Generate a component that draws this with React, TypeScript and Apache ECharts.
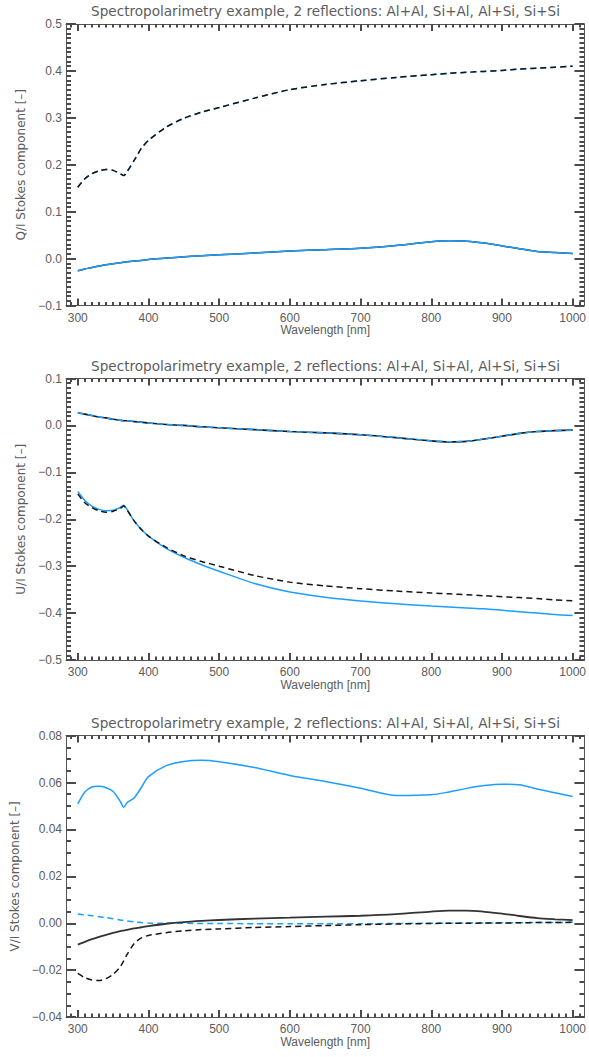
import { useEffect, useRef } from "react";
import * as echarts from "echarts";

// ---------------- data ----------------
const WAVELENGTH = [300, 310, 320, 330, 340, 350, 360, 365, 370, 380, 390, 400, 425, 450, 475, 500, 550, 600, 650, 700, 750, 800, 825, 850, 875, 900, 925, 950, 975, 1000];

// Q/I (the solid pair and the dashed pair coincide)
const Q_BLACK_SOLID = [-0.026, -0.022, -0.019, -0.016, -0.013, -0.011, -0.009, -0.008, -0.007, -0.005, -0.004, -0.002, 0.001, 0.004, 0.006, 0.008, 0.012, 0.016, 0.019, 0.022, 0.028, 0.036, 0.038, 0.037, 0.033, 0.027, 0.021, 0.015, 0.013, 0.011];
const Q_BLUE_SOLID = [-0.026, -0.022, -0.019, -0.016, -0.013, -0.011, -0.009, -0.008, -0.007, -0.005, -0.004, -0.002, 0.001, 0.004, 0.006, 0.008, 0.012, 0.016, 0.019, 0.022, 0.028, 0.036, 0.038, 0.037, 0.033, 0.027, 0.021, 0.015, 0.013, 0.011];
const Q_BLUE_DASHED = [0.152, 0.170, 0.181, 0.187, 0.190, 0.188, 0.181, 0.177, 0.186, 0.210, 0.235, 0.252, 0.280, 0.299, 0.312, 0.322, 0.342, 0.360, 0.371, 0.379, 0.386, 0.392, 0.395, 0.397, 0.399, 0.401, 0.404, 0.406, 0.408, 0.410];
const Q_BLACK_DASHED = [0.152, 0.170, 0.181, 0.187, 0.190, 0.188, 0.181, 0.177, 0.186, 0.210, 0.235, 0.252, 0.280, 0.299, 0.312, 0.322, 0.342, 0.360, 0.371, 0.379, 0.386, 0.392, 0.395, 0.397, 0.399, 0.401, 0.404, 0.406, 0.408, 0.410];

// U/I
const U_BLACK_SOLID = [0.027, 0.024, 0.021, 0.018, 0.016, 0.013, 0.011, 0.010, 0.010, 0.008, 0.007, 0.005, 0.002, 0.000, -0.003, -0.005, -0.009, -0.013, -0.016, -0.020, -0.026, -0.033, -0.035, -0.034, -0.029, -0.023, -0.017, -0.013, -0.011, -0.010];
const U_BLUE_DASHED = [0.027, 0.024, 0.021, 0.018, 0.016, 0.013, 0.011, 0.010, 0.010, 0.008, 0.007, 0.005, 0.002, 0.000, -0.003, -0.005, -0.009, -0.013, -0.016, -0.020, -0.026, -0.033, -0.035, -0.034, -0.029, -0.023, -0.017, -0.013, -0.011, -0.010];
const U_BLUE_SOLID = [-0.141, -0.160, -0.172, -0.179, -0.182, -0.181, -0.175, -0.170, -0.180, -0.204, -0.222, -0.236, -0.262, -0.281, -0.297, -0.311, -0.337, -0.355, -0.366, -0.374, -0.380, -0.385, -0.387, -0.389, -0.391, -0.394, -0.397, -0.400, -0.403, -0.405];
const U_BLACK_DASHED = [-0.146, -0.165, -0.175, -0.182, -0.185, -0.183, -0.177, -0.172, -0.181, -0.204, -0.222, -0.236, -0.260, -0.278, -0.290, -0.300, -0.320, -0.334, -0.342, -0.348, -0.353, -0.357, -0.359, -0.361, -0.363, -0.365, -0.367, -0.369, -0.372, -0.374];

// V/I
const V_BLUE_SOLID = [0.0509, 0.0560, 0.0581, 0.0584, 0.0578, 0.0562, 0.0520, 0.0495, 0.0515, 0.0535, 0.0580, 0.0625, 0.0672, 0.0690, 0.0695, 0.0689, 0.0664, 0.0630, 0.0604, 0.0576, 0.0545, 0.0548, 0.0560, 0.0575, 0.0587, 0.0593, 0.0590, 0.0572, 0.0556, 0.0540];
const V_BLUE_DASHED = [0.0040, 0.0036, 0.0032, 0.0028, 0.0024, 0.0019, 0.0014, 0.0012, 0.0010, 0.0006, 0.0003, 0.0001, 0.0000, 0.0000, -0.0001, -0.0001, -0.0002, -0.0002, -0.0002, -0.0002, -0.0001, 0.0000, 0.0000, 0.0001, 0.0001, 0.0002, 0.0002, 0.0003, 0.0003, 0.0004];
const V_BLACK_SOLID = [-0.0091, -0.0079, -0.0068, -0.0058, -0.0049, -0.0041, -0.0034, -0.0031, -0.0028, -0.0022, -0.0017, -0.0012, -0.0002, 0.0005, 0.0010, 0.0014, 0.0020, 0.0024, 0.0028, 0.0032, 0.0039, 0.0050, 0.0054, 0.0054, 0.0049, 0.0041, 0.0031, 0.0022, 0.0017, 0.0013];
const V_BLACK_DASHED = [-0.0214, -0.0232, -0.0242, -0.0244, -0.0236, -0.0218, -0.0186, -0.0160, -0.0132, -0.0085, -0.0062, -0.0052, -0.0040, -0.0032, -0.0027, -0.0024, -0.0018, -0.0014, -0.0010, -0.0006, -0.0003, -0.0001, 0.0000, 0.0000, 0.0001, 0.0001, 0.0002, 0.0003, 0.0003, 0.0004];

// ticks / texts
const X_MAJOR = [300, 400, 500, 600, 700, 800, 900, 1000];
const X_MINOR: number[] = [];
for (let v = 290; v <= 1010; v += 10) if (v % 100 !== 0) X_MINOR.push(v);

const TITLE = "Spectropolarimetry example, 2 reflections: Al+Al, Si+Al, Al+Si, Si+Si";
const X_NAME = "Wavelength [nm]";
const Y_NAMES = ["Q/I Stokes component [–]", "U/I Stokes component [–]", "V/I Stokes component [–]"];

// ---------------- styling ----------------
const AXIS = "#555555";
const TICK = "#4a4a4a";
const TICK_W = 2;
const TEXT = "#5c5c5c";
const BLACK = "#151515";
const BLUE = "#1e9eff";
const FONT = "Liberation Sans";
const TITLE_FONT = "DejaVu Sans";
const X_MIN = 283.33;
const X_MAX = 1016.67;
const GRID_LEFT = 66;
const GRID_W = 519;
const GRID_H = 281.5;

type Curve = { data: number[]; color: string; dashed: boolean; width: number };

const PANELS: {
  top: number;
  yMin: number;
  yMax: number;
  interval: number;
  minor: number;
  digits: number;
  curves: Curve[];
}[] = [
  {
    top: 24,
    yMin: -0.1,
    yMax: 0.5,
    interval: 0.1,
    minor: 10,
    digits: 1,
    curves: [
      { data: Q_BLACK_SOLID, color: BLACK, dashed: false, width: 1.5 },
      { data: Q_BLUE_SOLID, color: BLUE, dashed: false, width: 1.5 },
      { data: Q_BLUE_DASHED, color: BLUE, dashed: true, width: 1.5 },
      { data: Q_BLACK_DASHED, color: BLACK, dashed: true, width: 1.5 },
    ],
  },
  {
    top: 378.5,
    yMin: -0.5,
    yMax: 0.1,
    interval: 0.1,
    minor: 10,
    digits: 1,
    curves: [
      { data: U_BLACK_SOLID, color: BLACK, dashed: false, width: 1.6 },
      { data: U_BLUE_DASHED, color: BLUE, dashed: true, width: 1.5 },
      { data: U_BLUE_SOLID, color: BLUE, dashed: false, width: 1.5 },
      { data: U_BLACK_DASHED, color: BLACK, dashed: true, width: 1.5 },
    ],
  },
  {
    top: 735.6,
    yMin: -0.04,
    yMax: 0.08,
    interval: 0.02,
    minor: 4,
    digits: 2,
    curves: [
      { data: V_BLUE_SOLID, color: BLUE, dashed: false, width: 1.5 },
      { data: V_BLUE_DASHED, color: BLUE, dashed: true, width: 1.5 },
      { data: V_BLACK_SOLID, color: "#333333", dashed: false, width: 1.8 },
      { data: V_BLACK_DASHED, color: BLACK, dashed: true, width: 1.5 },
    ],
  },
];

function buildOption() {
  const grid: any[] = [];
  const xAxis: any[] = [];
  const yAxis: any[] = [];
  const series: any[] = [];
  const title: any[] = [];

  PANELS.forEach((p, i) => {
    grid.push({
      left: GRID_LEFT,
      top: p.top,
      width: GRID_W,
      height: GRID_H,
      containLabel: false,
    });
    title.push({
      text: TITLE,
      left: GRID_LEFT + GRID_W / 2,
      top: p.top - 20,
      textAlign: "center",
      padding: 0,
      textStyle: { fontFamily: TITLE_FONT, fontSize: 13.6, fontWeight: "normal", color: TEXT },
    });

    const xBase = {
      type: "value",
      gridIndex: i,
      min: X_MIN,
      max: X_MAX,
      splitLine: { show: false },
    };
    const xStart = xAxis.length;
    // bottom, major ticks + labels
    xAxis.push({
      ...xBase,
      position: "bottom",
      name: X_NAME,
      nameLocation: "middle",
      nameGap: 18,
      nameTextStyle: { fontFamily: FONT, fontSize: 12, color: TEXT },
      axisLine: { show: true, onZero: false, lineStyle: { color: AXIS, width: 1 } },
      axisTick: { show: true, inside: true, length: 7, customValues: X_MAJOR, lineStyle: { color: TICK, width: TICK_W } },
      axisLabel: {
        show: true,
        customValues: X_MAJOR,
        margin: 6,
        fontFamily: FONT,
        fontSize: 12,
        color: TEXT,
        formatter: (v: number) => String(Math.round(v)),
      },
    });
    // bottom, minor ticks
    xAxis.push({
      ...xBase,
      position: "bottom",
      axisLine: { show: false, onZero: false },
      axisTick: { show: true, inside: true, length: 3.5, customValues: X_MINOR, lineStyle: { color: TICK, width: TICK_W } },
      axisLabel: { show: false },
    });
    // top, major ticks
    xAxis.push({
      ...xBase,
      position: "top",
      axisLine: { show: true, onZero: false, lineStyle: { color: AXIS, width: 1 } },
      axisTick: { show: true, inside: true, length: 7, customValues: X_MAJOR, lineStyle: { color: TICK, width: TICK_W } },
      axisLabel: { show: false },
    });
    // top, minor ticks
    xAxis.push({
      ...xBase,
      position: "top",
      axisLine: { show: false, onZero: false },
      axisTick: { show: true, inside: true, length: 3.5, customValues: X_MINOR, lineStyle: { color: TICK, width: TICK_W } },
      axisLabel: { show: false },
    });

    const yStart = yAxis.length;
    [0, 1].forEach((side) => {
      yAxis.push({
        type: "value",
        gridIndex: i,
        min: p.yMin,
        max: p.yMax,
        interval: p.interval,
        position: side === 0 ? "left" : "right",
        splitLine: { show: false },
        axisLine: { show: true, onZero: false, lineStyle: { color: AXIS, width: 1 } },
        axisTick: { show: true, inside: true, length: 10, lineStyle: { color: TICK, width: TICK_W } },
        minorTick: { show: true, splitNumber: p.minor, length: 5, lineStyle: { color: TICK, width: TICK_W } },
        name: side === 0 ? Y_NAMES[i] : "",
        nameLocation: "middle",
        nameGap: 28,
        nameTextStyle: { fontFamily: TITLE_FONT, fontSize: 12, color: TEXT },
        axisLabel: {
          show: side === 0,
          margin: 4,
          fontFamily: FONT,
          fontSize: 12,
          color: TEXT,
          formatter: (v: number) => {
            const s = v.toFixed(p.digits);
            return s.startsWith("-") ? "\u2212" + s.slice(1) : s;
          },
        },
      });
    });

    // every axis of the panel carries one curve (all axes share the same extent)
    p.curves.forEach((c, k) => {
      series.push({
        type: "line",
        xAxisIndex: xStart + (k % 4),
        yAxisIndex: yStart + (k % 2),
        data: WAVELENGTH.map((w, j) => [w, c.data[j]]),
        showSymbol: false,
        symbol: "none",
        smooth: 0.25,
        silent: true,
        lineStyle: { color: c.color, width: c.width, type: c.dashed ? [6, 4] : "solid" },
      });
    });
  });

  return {
    animation: false,
    backgroundColor: "#ffffff",
    title,
    grid,
    xAxis,
    yAxis,
    series,
  };
}

export default function App() {
  const ref = useRef<HTMLDivElement>(null);
  useEffect(() => {
    document.body.style.margin = "0";
    if (!ref.current) return;
    const chart = echarts.init(ref.current, undefined, { renderer: "svg" });
    chart.setOption(buildOption() as any);
    return () => chart.dispose();
  }, []);
  return <div ref={ref} style={{ width: 589, height: 1057 }} />;
}
